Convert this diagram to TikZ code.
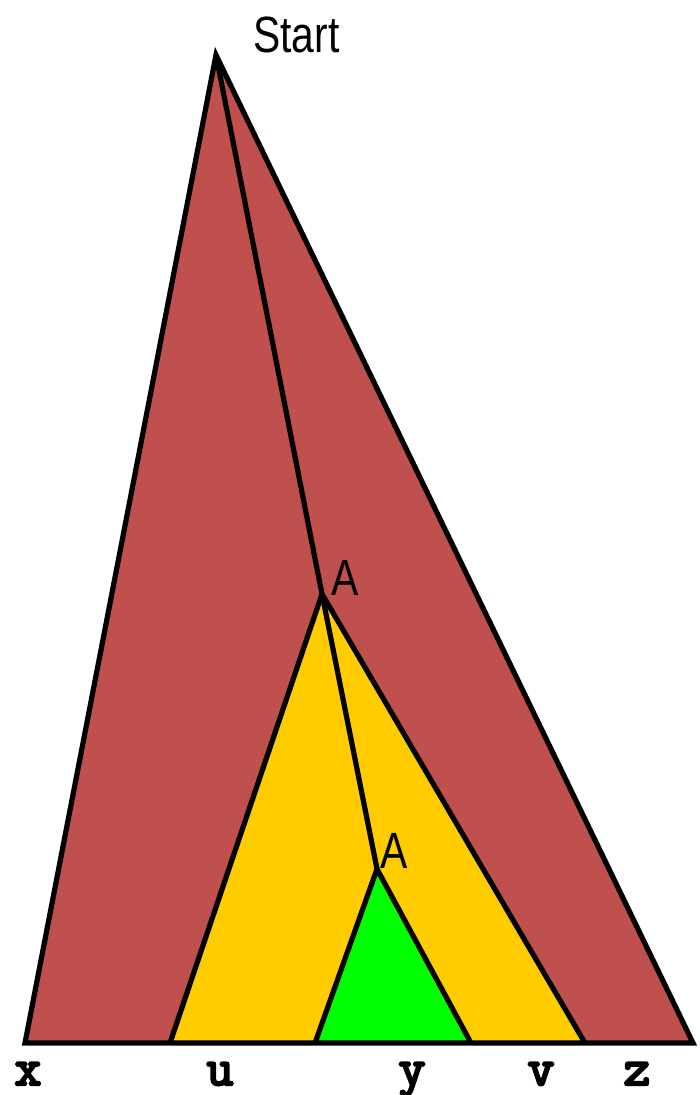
\documentclass[tikz,border=0pt]{standalone}
\usepackage{fontspec}
\newfontfamily\narrowsans[FakeStretch=0.8]{Liberation Sans}
\newfontfamily\monobold[FakeBold=4.5]{Latin Modern Mono}
\definecolor{tred}{HTML}{C0504D}
\definecolor{tyellow}{HTML}{FFCC00}
\definecolor{tgreen}{HTML}{00FF00}
\begin{document}
\begin{tikzpicture}[x=1pt,y=-1pt,
  edge/.style={line width=5.2pt, line join=miter, draw=black},
  lbl/.style={inner sep=0pt, font=\narrowsans\fontsize{51}{51}\selectfont},
  term/.style={inner sep=0pt, anchor=base, font=\monobold\fontsize{52}{52}\selectfont}]
\useasboundingbox (0,0) rectangle (699,1095);
\coordinate (S) at (216,55);
\coordinate (XL) at (25,1043);
\coordinate (XR) at (693,1043);
\coordinate (A1) at (322,594);
\coordinate (UL) at (170,1043);
\coordinate (VR) at (585,1043);
\coordinate (A2) at (377,869);
\coordinate (GL) at (315,1043);
\coordinate (GR) at (471,1043);
\fill[tred] (S)--(XL)--(XR)--cycle;
\fill[tyellow] (A1)--(UL)--(VR)--cycle;
\fill[tgreen] (A2)--(GL)--(GR)--cycle;
\draw[edge] (S)--(XL)--(XR)--cycle;
\draw[edge] (S)--(A1);
\draw[edge] (UL)--(A1)--(VR);
\draw[edge] (A1)--(A2);
\draw[edge] (GL)--(A2)--(GR);
\node[lbl, anchor=base west] (start) at (253,52) {Start};
\node[lbl, anchor=base west] (a1) at (331,595) {A};
\node[lbl, anchor=base west] (a2) at (380,868) {A};
\node[term] (x) at (28,1085) {x};
\node[term] (u) at (220,1085) {u};
\node[term] (y) at (412,1085) {y};
\node[term] (v) at (541,1085) {v};
\node[term] (z) at (637,1085) {z};
\end{tikzpicture}
\end{document}
